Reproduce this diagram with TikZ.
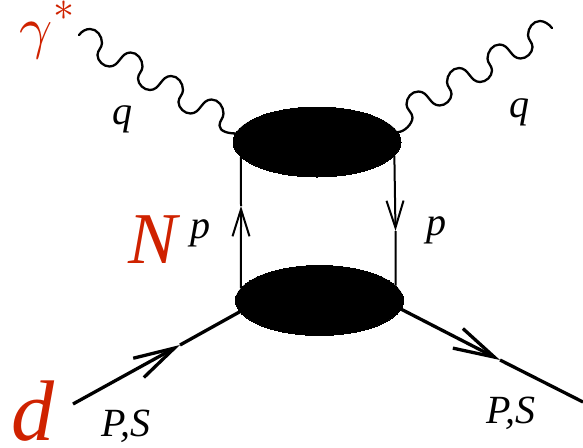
\documentclass[tikz,border=0pt]{standalone}
\usepackage{fontspec}
\setmainfont{Liberation Serif}[ItalicFont={Liberation Serif Italic}]
\usetikzlibrary{arrows.meta, shapes.geometric}
\definecolor{labred}{HTML}{CF2200}
\newcommand{\waveunit}[1]{%
  .. controls +(#1*7,0) and +(0,-7) .. ++(#1*12,14)
  .. controls +(0,5) and +(0,-5) .. ++(#1*-4.5,12)
  .. controls +(0,6) and +(#1*-6,0) .. ++(#1*12,11.5)
  .. controls +(#1*10,0) and +(#1*-10,0) .. ++(#1*21,-14)}
\begin{document}
\begin{tikzpicture}[
  x=1pt, y=-1pt,
  blob/.style={draw, fill=black, ellipse, inner sep=0pt, line width=0pt, minimum width=168pt, minimum height=70pt},
  wave/.style={line width=2.3pt, line cap=round},
  inner/.style={line width=2pt},
  outer/.style={line width=3.3pt},
  innerarr/.style={inner, -{Straight Barb[length=27pt, width=17pt]}},
  outerarr/.style={outer, -{Straight Barb[length=41pt, width=22pt]}},
  lab/.style={anchor=base, inner sep=0pt, font=\fontsize{40}{42}\selectfont\itshape},
  biglab/.style={anchor=base, inner sep=0pt, text=labred, font=\fontsize{#1}{#1}\selectfont\itshape},
  mathlab/.style={anchor=base, inner sep=0pt, text=labred, scale=#1}
]
\useasboundingbox (0,0) rectangle (583,447);
\node[blob] (top) at (317,142) {};
\node[blob] (bot) at (319.5,300.5) {};
\coordinate (gin) at (79,35);
\coordinate (gout) at (552,28);
\coordinate (dleft) at (73,404);
\coordinate (dright) at (583,402);
\coordinate (tipa) at (241,206);
\coordinate (tipb) at (395.5,231);
\coordinate (tipc) at (180,345);
\coordinate (tipd) at (500,360);
\draw[wave] (gin) .. controls +(3,-4) and +(-4,0) .. ++(11,-6)
  \foreach \n in {1,2,3} {\waveunit{1}}
  .. controls +(7,0) and +(0,-7) .. ++(12,14)
  .. controls +(0,5) and +(0,-5) .. ++(-4,12)
  .. controls +(0,6) and +(-7,0) .. (top.174);
\draw[wave] (gout) .. controls +(-3,-4) and +(4,0) .. ++(-12,-7)
  \foreach \n in {1,2,3} {\waveunit{-1}}
  .. controls +(-7,0) and +(0,-7) .. ++(-12,13)
  .. controls +(0,5) and +(0,-5) .. ++(6,13)
  .. controls +(0,6) and +(7,0) .. (top.7);
\draw[innerarr] (bot.171) -- (tipa);
\draw[inner] (tipa) -- (top.191);
\draw[innerarr] (top.-10) -- (tipb);
\draw[inner] (tipb) -- (bot.11);
\draw[outerarr] (dleft) -- (tipc);
\draw[outer] (tipc) -- (bot.188);
\draw[outerarr] (bot.-6) -- (tipd);
\draw[outer] (tipd) -- (dright);
\node[lab] (qa) at (122,124) {q};
\node[lab] (qb) at (519,117) {q};
\node[lab] (pa) at (200,238) {p};
\node[lab] (pb) at (436,235) {p};
\node[lab] (psa) at (126,436) {P,S};
\node[lab] (psb) at (511,423) {P,S};
\node[biglab=73] (nuc) at (153,263) {N};
\node[biglab=86] (deu) at (33,440) {d};
\node[mathlab=5.8] (gam) at (36,47) {$\gamma$};
\node[mathlab=4.2] (star) at (64,20) {$*$};
\end{tikzpicture}
\end{document}
